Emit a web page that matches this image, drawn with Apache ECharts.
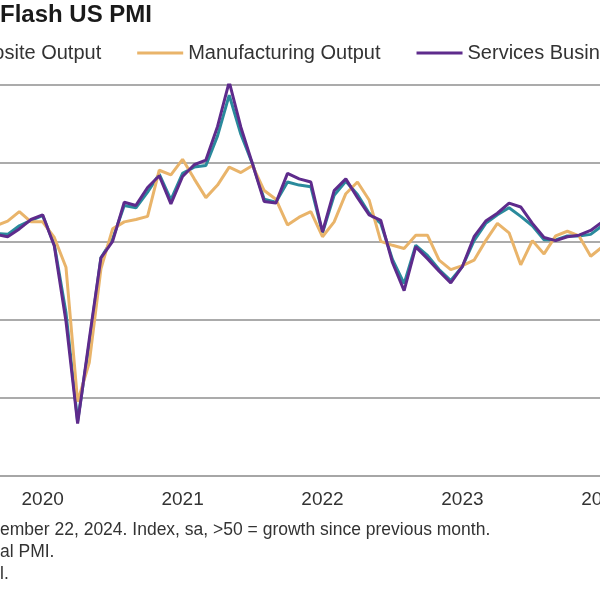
<!DOCTYPE html>
<html><head><meta charset="utf-8">
<script src="https://cdn.jsdelivr.net/npm/echarts@6/dist/echarts.min.js"></script>
<style>html,body{margin:0;padding:0;background:#fff}#c{width:600px;height:600px}</style>
</head><body><div id="c"></div>
<script>
const months = ['2019-09','2019-10','2019-11','2019-12',
 '2020-01','2020-02','2020-03','2020-04','2020-05','2020-06','2020-07','2020-08','2020-09','2020-10','2020-11','2020-12',
 '2021-01','2021-02','2021-03','2021-04','2021-05','2021-06','2021-07','2021-08','2021-09','2021-10','2021-11','2021-12',
 '2022-01','2022-02','2022-03','2022-04','2022-05','2022-06','2022-07','2022-08','2022-09','2022-10','2022-11','2022-12',
 '2023-01','2023-02','2023-03','2023-04','2023-05','2023-06','2023-07','2023-08','2023-09','2023-10','2023-11','2023-12',
 '2024-01','2024-02'];
const composite = [51.0,50.9,52.0,52.7,
 53.3,49.6,40.9,27.0,37.0,47.9,50.3,54.6,54.3,56.3,58.6,55.3,
 58.7,59.5,59.7,63.5,68.7,63.7,59.9,55.4,55.0,57.6,57.2,57.0,
 51.1,55.9,57.7,56.0,53.6,52.3,47.7,44.6,49.5,48.2,46.4,45.0,
 46.8,50.1,52.3,53.4,54.3,53.2,52.0,50.2,50.2,50.7,50.7,50.9,
 52.0,52.5];
const manufacturing = [52.0,52.6,53.8,52.5,
 52.5,50.5,46.7,29.5,34.5,46.5,51.6,52.5,52.8,53.2,59.1,58.5,
 60.5,58.0,55.6,57.2,59.5,58.8,59.7,56.5,55.4,52.1,53.1,53.8,
 50.6,52.5,56.1,57.6,55.3,50.0,49.5,49.1,50.8,50.8,47.6,46.4,
 46.9,47.6,50.1,52.3,51.1,47.0,50.1,48.4,50.7,51.3,50.7,48.1,
 49.3,51.0];
const services = [50.9,50.6,51.6,52.8,
 53.4,49.4,39.8,26.7,37.5,47.9,50.0,55.0,54.6,56.9,58.4,54.8,
 58.3,59.8,60.4,64.7,70.4,64.6,59.9,55.1,54.9,58.7,58.0,57.6,
 51.2,56.5,58.0,55.6,53.4,52.7,47.3,43.7,49.3,47.8,46.2,44.7,
 46.8,50.6,52.6,53.6,54.9,54.4,52.3,50.5,50.1,50.6,50.8,51.4,
 52.5,52.3];
const seriesNames = ['Composite Output','Manufacturing Output','Services Business Activity'];
const yearTicks = ['2020','2021','2022','2023','2024'];
const titleText = 'Flash US PMI';
const footnotes = ['ember 22, 2024. Index, sa, >50 = growth since previous month.','al PMI.','l.'];

const FONT = "'Liberation Sans', Arial, sans-serif";
const chart = echarts.init(document.getElementById('c'), null, {renderer:'canvas'});
const colors = ['#2A8A9C','#E9B46A','#5E2B8C'];
const dataSets = [composite, manufacturing, services];

chart.setOption({
  animation: false,
  backgroundColor: '#fff',
  title: {text: titleText, left: 0, top: 3, padding: 0,
    textStyle: {fontSize: 24, fontWeight: 'bold', color: '#1a1a1a', fontFamily: FONT}},
  legend: {data: seriesNames, left: -111, top: 43, width: 1200, padding: 0, icon: 'rect',
    itemWidth: 46, itemHeight: 3, itemGap: 36,
    textStyle: {fontSize: 20, color: '#333', fontFamily: FONT}},
  grid: {left: -4, right: -14, top: 85, bottom: 124, containLabel: false, outerBoundsMode: 'none'},
  xAxis: {type: 'category', data: months, boundaryGap: false,
    axisLine: {lineStyle: {color: '#A6A6A6', width: 2}},
    axisTick: {show: false}, splitLine: {show: false},
    axisLabel: {interval: (i, v) => yearTicks.includes(v.slice(0,4)) && v.slice(5) === '01',
      formatter: v => v.slice(0,4), fontSize: 19, color: '#333', margin: 14, fontFamily: FONT,
      hideOverlap: false}},
  yAxis: {type: 'value', min: 20, max: 70, interval: 10,
    axisLabel: {show: false}, axisLine: {show: false}, axisTick: {show: false},
    splitLine: {lineStyle: {color: '#ABABAB', width: 2}}},
  graphic: footnotes.map((t, i) => ({type: 'text', left: 0, top: 521 + i * 22,
    style: {text: t, fontSize: 17.5, fontFamily: FONT, fill: '#333'}})),
  series: seriesNames.map((n, i) => ({name: n, type: 'line', data: dataSets[i], symbol: 'none',
    lineStyle: {width: 3, color: colors[i]}, itemStyle: {color: colors[i]}, z: 2 + i}))
});
</script></body></html>
